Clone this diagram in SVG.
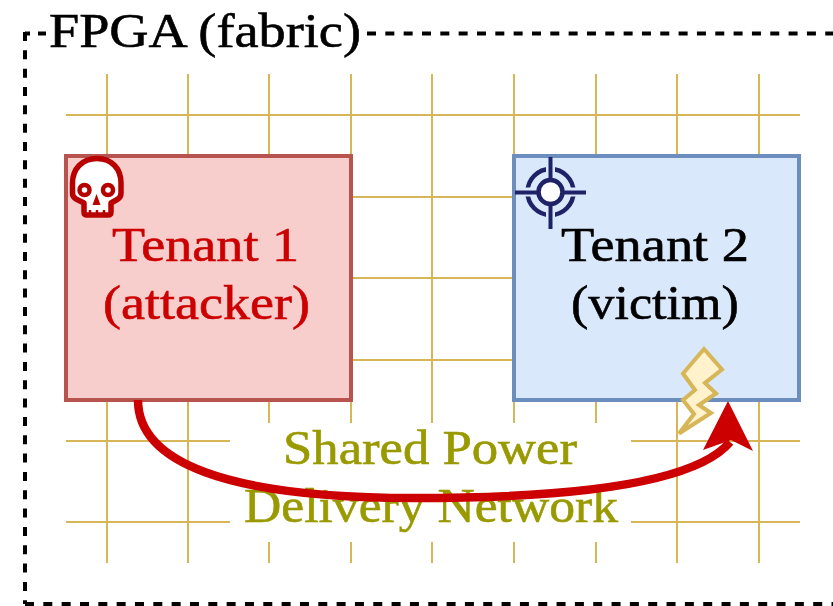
<svg xmlns="http://www.w3.org/2000/svg" width="833" height="606" viewBox="0 0 833 606">
<style>
text{font-family:"Liberation Serif","Times New Roman",serif;text-anchor:middle;stroke-width:.6;font-size:48px}
.g{stroke:#d6b656;stroke-width:2;fill:none}
.d{fill:none;stroke:#000;stroke-width:4;stroke-dasharray:9 9.33}
</style>
<rect width="833" height="606" fill="#fff"/>
<g id="fpga-frame">
<path class="d" d="M367 33.5H833M25 32V604M25 604H833"/>
<path d="M25 33.5H30M38 33.5H46" fill="none" stroke="#000" stroke-width="4"/>
</g>
<g id="grid">
<path class="g" d="M107 74V563M188 74V563M269 74V563M351 74V563M432 74V563M514 74V563M596 74V563M677 74V563M759 74V563"/>
<path class="g" d="M66 115H800M66 197H800M66 278H800M66 360H800M66 441H800M66 522H800"/>
</g>
<g id="fpga-label"><text x="205" y="47" textLength="312" lengthAdjust="spacingAndGlyphs" fill="#000" stroke="#000">FPGA (fabric)</text></g>
<g id="tenant1">
<rect x="66" y="156" width="285" height="244" fill="#f8cecc" stroke="#b85450" stroke-width="4"/>
<text x="205.500" y="261" textLength="187" lengthAdjust="spacingAndGlyphs" fill="#cc0000" stroke="#cc0000">Tenant 1</text>
<text x="206.500" y="318.500" textLength="207" lengthAdjust="spacingAndGlyphs" fill="#cc0000" stroke="#cc0000">(attacker)</text>
<g id="skull">
<path d="M97 158.500C82 158.500 72.500 169 72.500 183V193Q72.500 197 76 199L84 203V212Q84 215 87 215H108Q111 215 111 212V203L118 199Q121 197 121 193V183C121 169 112 158.500 97 158.500Z" fill="#fff" stroke="#b80000" stroke-width="5.500" stroke-linejoin="round"/>
<circle cx="84.500" cy="190" r="5" fill="#fff" stroke="#b80000" stroke-width="4.500"/>
<circle cx="108" cy="190" r="5" fill="#fff" stroke="#b80000" stroke-width="4.500"/>
<path d="M96.500 194L92.500 205H100.500Z" fill="#b80000"/>
<path d="M90 210V214M97 210V214M104 210V214" stroke="#b80000" stroke-width="2.500"/>
</g>
</g>
<g id="tenant2">
<rect x="514" y="156" width="285" height="244" fill="#dae8fc" stroke="#6c8ebf" stroke-width="4"/>
<text x="655" y="261" textLength="188" lengthAdjust="spacingAndGlyphs" fill="#000" stroke="#000">Tenant 2</text>
<text x="655" y="318.500" textLength="168" lengthAdjust="spacingAndGlyphs" fill="#000" stroke="#000">(victim)</text>
<g id="target" fill="none">
<circle cx="550.500" cy="192" r="23" stroke="#1f2266" stroke-width="4.500"/>
<path d="M550.500 165V219M524 192H577" stroke="#dae8fc" stroke-width="9"/>
<path d="M550.500 157V229M515 192.500H586" stroke="#1f2266" stroke-width="4"/>
<circle cx="550.500" cy="192" r="12" fill="#fff" stroke="#1f2266" stroke-width="4.500"/>
</g>
<path id="bolt" d="M704 349L722 369.500L705 383L716 393.500L699 405L711 413L679 433.500L694 414L683 400L695 390L683 373.500Z" fill="#fff2cc" stroke="#d6b656" stroke-width="4"/>
</g>
<g id="label"><rect x="230" y="423" width="401" height="119" fill="#fff"/>
<text x="430" y="464" textLength="294" lengthAdjust="spacingAndGlyphs" fill="#999900" stroke="#999900">Shared Power</text>
<text x="431" y="522" textLength="374" lengthAdjust="spacingAndGlyphs" fill="#999900" stroke="#999900">Delivery Network</text></g>
<g id="connectors">
<path d="M138 400C138 462 225 498 415 498C600 498 700 478 730 442" fill="none" stroke="#cc0000" stroke-width="8.500"/>
<path d="M728 401L753 451L731 440L703 450Z" fill="#cc0000"/>
</g>
</svg>
